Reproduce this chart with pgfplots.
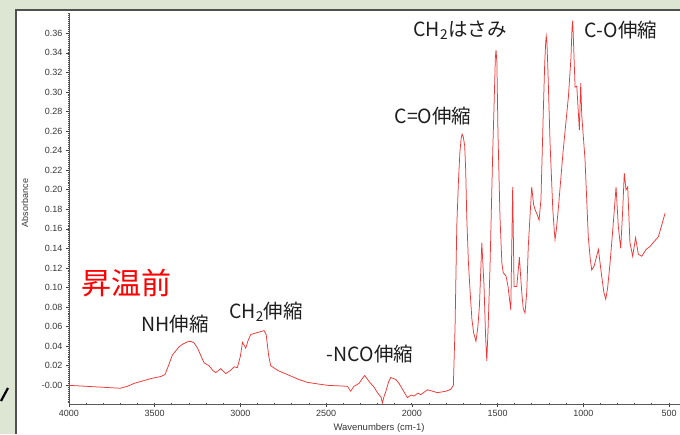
\documentclass[border=0pt]{standalone}
\usepackage{pgfplots}
\pgfplotsset{compat=1.18}
\usepackage{fontspec}
\setmainfont{Liberation Sans}
\newfontfamily\jp{Noto Sans CJK JP}
\definecolor{bggreen}{RGB}{221,229,211}
\definecolor{framec}{RGB}{80,80,80}
\definecolor{spec}{RGB}{240,55,55}
\definecolor{ticktxt}{RGB}{55,55,55}
\definecolor{annot}{RGB}{30,30,30}
\pgfplotstableread{
w v
4000 0.000
3900 -0.001
3800 -0.002
3700 -0.003
3660 -0.001
3620 0.002
3580 0.004
3520 0.007
3465 0.009
3440 0.011
3420 0.020
3397 0.031
3360 0.039
3338 0.042
3310 0.0445
3290 0.045
3271 0.0435
3250 0.038
3230 0.030
3212 0.023
3183 0.020
3160 0.015
3144 0.013
3115 0.017
3086 0.012
3060 0.015
3037 0.019
3018 0.018
3000 0.030
2988 0.044
2969 0.038
2955 0.046
2940 0.052
2920 0.053
2901 0.054
2880 0.055
2862 0.056
2850 0.052
2835 0.030
2823 0.020
2780 0.015
2726 0.011
2660 0.006
2609 0.003
2493 0.000
2376 -0.001
2357 -0.006
2338 -0.001
2308 0.002
2285 0.008
2275 0.010
2262 0.007
2250 0.004
2220 -0.002
2201 -0.0075
2180 -0.012
2172 -0.018
2160 -0.010
2153 -0.007
2135 0.004
2123 0.008
2094 0.006
2075 0.002
2055 -0.004
2026 -0.0126
2005 -0.010
1987 -0.011
1965 -0.008
1948 -0.0095
1909 -0.0045
1880 -0.006
1851 -0.0075
1800 -0.006
1773 -0.004
1758 0.000
1748 0.060
1738 0.163
1728 0.210
1720 0.238
1713 0.252
1707 0.257
1700 0.254
1692 0.245
1686 0.220
1680 0.173
1670 0.125
1660 0.095
1650 0.068
1640 0.054
1626 0.045
1615 0.060
1606 0.081
1592 0.146
1579 0.101
1570 0.050
1563 0.025
1555 0.060
1544 0.122
1535 0.190
1528 0.241
1520 0.290
1513 0.335
1509 0.343
1504 0.330
1498 0.260
1486 0.172
1475 0.125
1467 0.115
1451 0.112
1439 0.101
1423 0.077
1412 0.203
1404 0.101
1388 0.101
1373 0.131
1359 0.095
1350 0.078
1340 0.074
1330 0.095
1321 0.142
1301 0.203
1290 0.185
1282 0.180
1270 0.175
1258 0.169
1247 0.190
1233 0.282
1225 0.330
1219 0.352
1216 0.357
1212 0.350
1206 0.320
1194 0.248
1178 0.180
1170 0.160
1165 0.149
1158 0.158
1146 0.180
1117 0.241
1087 0.295
1072 0.335
1066 0.365
1062 0.373
1059 0.360
1055 0.340
1048 0.305
1038 0.306
1023 0.261
1015 0.309
1009 0.276
990 0.231
971 0.152
960 0.130
951 0.118
937 0.122
912 0.139
893 0.112
880 0.095
869 0.088
858 0.100
844 0.125
825 0.166
809 0.203
796 0.163
782 0.140
770 0.180
761 0.217
751 0.200
741 0.203
728 0.146
712 0.132
695 0.151
679 0.134
659 0.132
634 0.139
611 0.142
592 0.146
562 0.152
523 0.176
}\spectrum
\begin{document}
\begin{tikzpicture}[x=1pt,y=1pt]
\fill[bggreen] (0,0) rectangle (680,434);
\fill[white] (15,0) rectangle (680,425);
\draw[framec,line width=2pt] (16,0) -- (16,424) -- (680,424);
\draw[black,line width=2.2pt] (1,33) -- (8,46);
\begin{axis}[
  at={(69pt,30pt)}, anchor=south west, scale only axis,
  width=611pt, height=390.7pt,
  xmin=436, xmax=4000, x dir=reverse,
  ymin=-0.0191, ymax=0.3805,
  axis x line=bottom, axis y line=left,
  axis line style={-, draw=gray!70!black, line width=0.6pt},
  xtick={500,1000,1500,2000,2500,3000,3500,4000},
  xticklabels={500,1000,1500,2000,2500,3000,3500,4000},
  minor xtick={500,600,...,4000},
  ytick={0,0.02,0.04,0.06,0.08,0.10,0.12,0.14,0.16,0.18,0.20,0.22,0.24,0.26,0.28,0.30,0.32,0.34,0.36},
  yticklabels={-0.00,0.02,0.04,0.06,0.08,0.10,0.12,0.14,0.16,0.18,0.20,0.22,0.24,0.26,0.28,0.30,0.32,0.34,0.36},
  minor ytick={-0.018,-0.016,...,0.380},
  major tick style={gray!50!black, line width=0.7pt},
  minor tick style={gray!60!black, line width=0.9pt},
  major tick length=3pt, minor tick length=2.6pt,
  tick align=outside,
  minor y tick style={xshift=1.3pt},
  minor x tick style={yshift=1.3pt},
  ticklabel style={font=\fontsize{9}{10}\selectfont, text=ticktxt},
  clip mode=individual,
]
\addplot[spec, line width=0.75pt] table[x=w,y=v] {\spectrum};
\node[font=\jp\fontsize{30}{31}\selectfont, text=red] at (axis cs:3662,0.1046) {昇温前};
\node[font=\jp\fontsize{19.5}{20}\selectfont, text=annot] at (axis cs:3382,0.0627) {NH伸縮};
\node[font=\jp\fontsize{19.5}{20}\selectfont, text=annot] at (axis cs:2851,0.075) {CH\textsubscript{2}伸縮};
\node[font=\jp\fontsize{19.5}{20}\selectfont, text=annot] at (axis cs:2244,0.032) {-NCO伸縮};
\node[font=\jp\fontsize{19.5}{20}\selectfont, text=annot] at (axis cs:1877,0.2754) {C=O伸縮};
\node[font=\jp\fontsize{19.5}{20}\selectfont, text=annot] at (axis cs:1719,0.3633) {CH\textsubscript{2}はさみ};
\node[font=\jp\fontsize{19.5}{20}\selectfont, text=annot] at (axis cs:780,0.3633) {C-O伸縮};
\end{axis}
\node[rotate=90, font=\fontsize{9}{10}\selectfont, text=ticktxt] at (25,231) {Absorbance};
\node[font=\fontsize{9.5}{10}\selectfont, text=ticktxt] at (379,6) {Wavenumbers (cm-1)};
\pgfresetboundingbox
\useasboundingbox (0,0) rectangle (680,434);
\end{tikzpicture}
\end{document}
